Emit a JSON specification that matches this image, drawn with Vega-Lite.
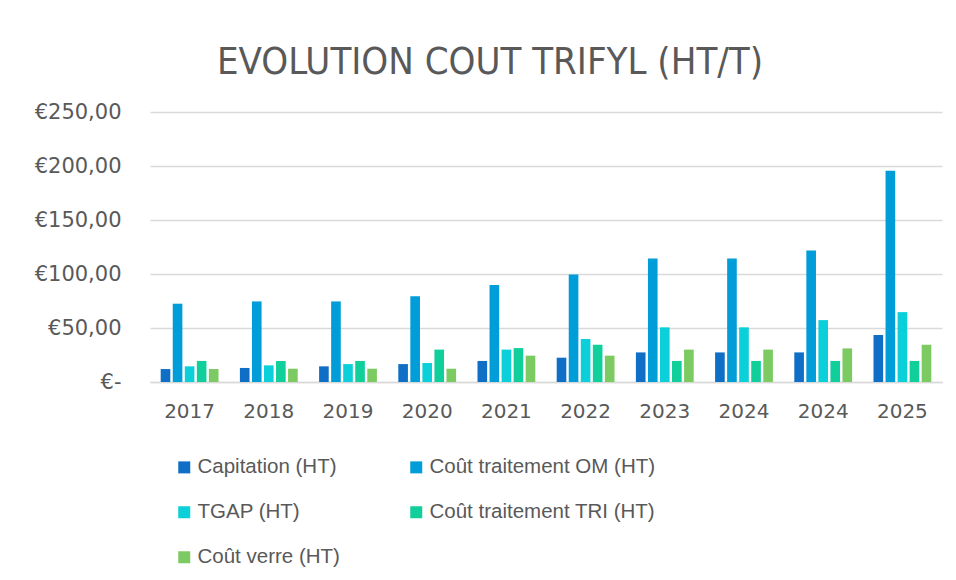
{
  "$schema": "https://vega.github.io/schema/vega-lite/v6.json",
  "autosize": "none",
  "width": 792,
  "height": 270,
  "padding": {"left": 150, "top": 112, "right": 14, "bottom": 198},
  "background": "white",
  "title": {
    "text": "EVOLUTION COUT TRIFYL (HT/T)",
    "anchor": "middle",
    "dx": -56,
    "offset": 19,
    "font": "'DejaVu Sans Condensed', sans-serif",
    "fontSize": 38,
    "fontWeight": 300,
    "color": "#595959"
  },
  "config": {
    "view": {"stroke": null},
    "axis": {"labelColor": "#595959", "gridColor": "#d9d9d9", "gridWidth": 1.3, "domainColor": "#d9d9d9", "domainWidth": 1.3}
  },
  "data": {
    "values": [
      {"cat": "2017", "series": "Capitation (HT)", "value": 12},
      {"cat": "2017", "series": "Coût traitement OM (HT)", "value": 72.5},
      {"cat": "2017", "series": "TGAP (HT)", "value": 14.5},
      {"cat": "2017", "series": "Coût traitement TRI (HT)", "value": 19.5},
      {"cat": "2017", "series": "Coût verre (HT)", "value": 12},
      {"cat": "2018", "series": "Capitation (HT)", "value": 13},
      {"cat": "2018", "series": "Coût traitement OM (HT)", "value": 74.6},
      {"cat": "2018", "series": "TGAP (HT)", "value": 15.4},
      {"cat": "2018", "series": "Coût traitement TRI (HT)", "value": 19.5},
      {"cat": "2018", "series": "Coût verre (HT)", "value": 12.3},
      {"cat": "2019", "series": "Capitation (HT)", "value": 14.5},
      {"cat": "2019", "series": "Coût traitement OM (HT)", "value": 74.6},
      {"cat": "2019", "series": "TGAP (HT)", "value": 16.6},
      {"cat": "2019", "series": "Coût traitement TRI (HT)", "value": 19.5},
      {"cat": "2019", "series": "Coût verre (HT)", "value": 12.3},
      {"cat": "2020", "series": "Capitation (HT)", "value": 16.6},
      {"cat": "2020", "series": "Coût traitement OM (HT)", "value": 79.5},
      {"cat": "2020", "series": "TGAP (HT)", "value": 17.6},
      {"cat": "2020", "series": "Coût traitement TRI (HT)", "value": 30},
      {"cat": "2020", "series": "Coût verre (HT)", "value": 12.3},
      {"cat": "2021", "series": "Capitation (HT)", "value": 19.5},
      {"cat": "2021", "series": "Coût traitement OM (HT)", "value": 89.7},
      {"cat": "2021", "series": "TGAP (HT)", "value": 30},
      {"cat": "2021", "series": "Coût traitement TRI (HT)", "value": 31.4},
      {"cat": "2021", "series": "Coût verre (HT)", "value": 24.4},
      {"cat": "2022", "series": "Capitation (HT)", "value": 22.5},
      {"cat": "2022", "series": "Coût traitement OM (HT)", "value": 99.6},
      {"cat": "2022", "series": "TGAP (HT)", "value": 39.8},
      {"cat": "2022", "series": "Coût traitement TRI (HT)", "value": 34.5},
      {"cat": "2022", "series": "Coût verre (HT)", "value": 24.4},
      {"cat": "2023", "series": "Capitation (HT)", "value": 27.4},
      {"cat": "2023", "series": "Coût traitement OM (HT)", "value": 114.4},
      {"cat": "2023", "series": "TGAP (HT)", "value": 50.6},
      {"cat": "2023", "series": "Coût traitement TRI (HT)", "value": 19.5},
      {"cat": "2023", "series": "Coût verre (HT)", "value": 30},
      {"cat": "2024a", "series": "Capitation (HT)", "value": 27.4},
      {"cat": "2024a", "series": "Coût traitement OM (HT)", "value": 114.4},
      {"cat": "2024a", "series": "TGAP (HT)", "value": 50.6},
      {"cat": "2024a", "series": "Coût traitement TRI (HT)", "value": 19.5},
      {"cat": "2024a", "series": "Coût verre (HT)", "value": 30},
      {"cat": "2024b", "series": "Capitation (HT)", "value": 27.4},
      {"cat": "2024b", "series": "Coût traitement OM (HT)", "value": 121.8},
      {"cat": "2024b", "series": "TGAP (HT)", "value": 57.3},
      {"cat": "2024b", "series": "Coût traitement TRI (HT)", "value": 19.5},
      {"cat": "2024b", "series": "Coût verre (HT)", "value": 31.1},
      {"cat": "2025", "series": "Capitation (HT)", "value": 43.5},
      {"cat": "2025", "series": "Coût traitement OM (HT)", "value": 195.7},
      {"cat": "2025", "series": "TGAP (HT)", "value": 64.7},
      {"cat": "2025", "series": "Coût traitement TRI (HT)", "value": 19.5},
      {"cat": "2025", "series": "Coût verre (HT)", "value": 34.5}
    ]
  },
  "mark": {"type": "bar"},
  "encoding": {
    "x": {
      "field": "cat",
      "type": "nominal",
      "sort": null,
      "scale": {"paddingInner": 0.27, "paddingOuter": 0.135},
      "axis": {
        "title": null,
        "labelAngle": 0,
        "ticks": false,
        "tickSize": 0,
        "labelPadding": 19,
        "labelFont": "DejaVu Sans",
        "labelFontSize": 20,
        "labelExpr": "substring(datum.label, 0, 4)"
      }
    },
    "xOffset": {
      "field": "series",
      "type": "nominal",
      "sort": ["Capitation (HT)", "Coût traitement OM (HT)", "TGAP (HT)", "Coût traitement TRI (HT)", "Coût verre (HT)"],
      "scale": {"paddingInner": 0.2, "paddingOuter": 0}
    },
    "y": {
      "field": "value",
      "type": "quantitative",
      "scale": {"domain": [0, 250], "nice": false},
      "axis": {
        "title": null,
        "values": [0, 50, 100, 150, 200, 250],
        "domain": false,
        "ticks": false,
        "tickSize": 0,
        "labelPadding": 29,
        "labelFont": "DejaVu Sans",
        "labelFontSize": 21,
        "labelExpr": "datum.value == 0 ? '€-\u00a0\u00a0' : '€' + replace(format(datum.value, '.2f'), '.', ',')"
      }
    },
    "color": {
      "field": "series",
      "type": "nominal",
      "scale": {
        "domain": ["Capitation (HT)", "Coût traitement OM (HT)", "TGAP (HT)", "Coût traitement TRI (HT)", "Coût verre (HT)"],
        "range": ["#0F6FC6", "#009DD9", "#0BD0D9", "#10CF9B", "#7CCA62"]
      },
      "legend": {
        "title": null,
        "orient": "none",
        "direction": "horizontal",
        "legendX": 24,
        "legendY": 345,
        "columns": 2,
        "columnPadding": 66,
        "rowPadding": 24,
        "symbolType": "square",
        "symbolSize": 144,
        "symbolStrokeWidth": 0,
        "labelFont": "Liberation Sans",
        "labelFontSize": 20.5,
        "labelColor": "#595959",
        "labelOffset": 3,
        "labelLimit": 400
      }
    }
  }
}
